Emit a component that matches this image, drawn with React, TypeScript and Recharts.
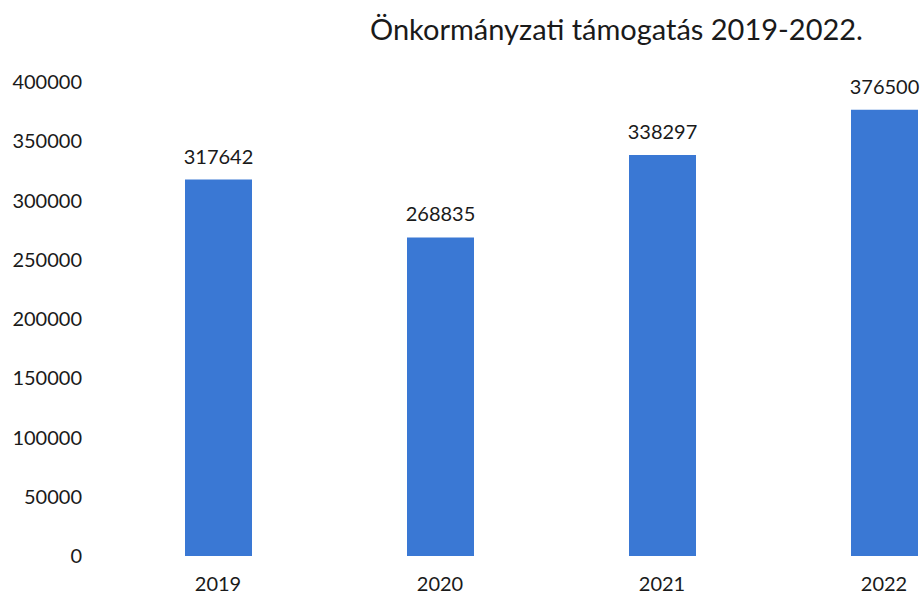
import React from 'react';
import { BarChart, Bar, XAxis, YAxis, LabelList } from 'recharts';

const years = ['2019', '2020', '2021', '2022'];
const support = [317642, 268835, 338297, 376500];
const yTicks = [0, 50000, 100000, 150000, 200000, 250000, 300000, 350000, 400000];

const data = years.map((year, i) => ({ year, value: support[i] }));

const font = 'Lato, "Open Sans", sans-serif';
const textStyle = { fontFamily: font, fontSize: 20, fill: '#1a1a1a' };

const App: React.FC = () => (
  <div
    style={{
      position: 'absolute',
      left: 0,
      top: 0,
      width: 921,
      height: 595,
      overflow: 'hidden',
      background: '#fff',
    }}
  >
    <div
      style={{
        position: 'absolute',
        left: 370,
        top: 11,
        fontFamily: font,
        fontSize: 29,
        color: '#1a1a1a',
        whiteSpace: 'nowrap',
      }}
    >
      Önkormányzati támogatás 2019-2022.
    </div>
    <BarChart
      width={995}
      height={595}
      data={data}
      margin={{ top: 82, right: 0, bottom: 0, left: 0 }}
    >
      <XAxis
        dataKey="year"
        axisLine={false}
        tickLine={false}
        tickMargin={15}
        height={39}
        tick={textStyle}
      />
      <YAxis
        domain={[0, 400000]}
        ticks={yTicks}
        axisLine={false}
        tickLine={false}
        width={107}
        tickMargin={19}
        tick={textStyle}
      />
      <Bar dataKey="value" fill="#3a78d4" barSize={67} isAnimationActive={false}>
        <LabelList dataKey="value" position="top" offset={16} style={textStyle} />
      </Bar>
    </BarChart>
  </div>
);

export default App;
